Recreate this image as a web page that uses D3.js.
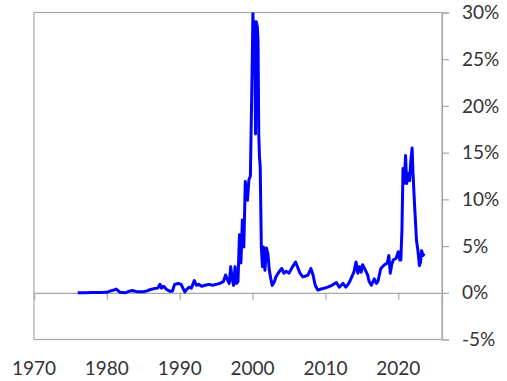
<!DOCTYPE html>
<html><head><meta charset="utf-8">
<script src="https://cdn.jsdelivr.net/npm/d3@7"></script>
<style>body{margin:0;background:#fff}svg{display:block}</style>
</head><body><svg id="c" width="507" height="381"></svg>
<script>
const years = [1976.0,1977.0,1978.0,1979.0,1980.0,1980.5,1981.0,1981.3,1981.8,1982.5,1983.0,1983.5,1984.2,1985.0,1985.5,1986.0,1986.5,1987.0,1987.3,1987.5,1987.8,1988.2,1988.7,1989.0,1989.3,1989.8,1990.2,1990.5,1990.7,1991.0,1991.3,1991.6,1992.0,1992.3,1992.6,1993.0,1993.5,1994.0,1994.5,1995.0,1995.5,1996.0,1996.3,1996.6,1996.8,1997.0,1997.2,1997.4,1997.6,1997.8,1998.0,1998.2,1998.4,1998.6,1998.8,1999.0,1999.2,1999.3,1999.5,1999.7,1999.9,2000.05,2000.15,2000.3,2000.4,2000.5,2000.65,2000.75,2000.85,2000.95,2001.05,2001.2,2001.35,2001.5,2001.7,2001.9,2002.1,2002.3,2002.5,2002.7,2003.0,2003.2,2003.6,2004.0,2004.3,2004.6,2005.0,2005.5,2005.9,2006.2,2006.5,2006.9,2007.3,2007.6,2008.0,2008.3,2008.6,2008.95,2009.4,2009.9,2010.3,2010.9,2011.5,2011.9,2012.4,2012.8,2013.2,2013.5,2013.9,2014.2,2014.45,2014.7,2014.9,2015.1,2015.5,2015.8,2016.0,2016.3,2016.7,2017.0,2017.2,2017.6,2018.1,2018.5,2018.7,2018.9,2019.1,2019.3,2019.7,2020.0,2020.2,2020.35,2020.5,2020.65,2020.8,2021.0,2021.15,2021.3,2021.55,2021.7,2021.9,2022.0,2022.25,2022.5,2022.7,2022.9,2023.05,2023.2,2023.4,2023.55];
const values = [0.0,0.0,0.02,0.03,0.05,0.2,0.3,0.4,0.05,0.0,0.15,0.25,0.1,0.1,0.2,0.35,0.45,0.5,0.9,0.5,0.7,0.35,0.15,0.2,0.9,1.0,0.9,0.4,0.1,0.4,0.6,0.5,1.3,0.8,0.9,0.7,0.8,0.9,0.8,0.9,1.0,1.2,1.9,1.3,1.0,2.8,1.5,0.8,2.8,1.0,1.2,6.2,3.2,7.8,4.9,11.9,11.0,9.9,12.1,12.5,22,30,24,29,17,29,28.5,27,17,14.5,13.5,5.0,2.8,4.9,2.4,4.8,4.2,2.4,1.5,0.8,1.2,1.7,2.2,2.6,2.1,2.3,2.1,2.8,3.3,2.7,2.1,1.7,1.8,1.9,2.6,1.9,0.8,0.3,0.4,0.5,0.6,0.8,1.1,0.6,1.0,0.6,1.0,1.5,2.2,3.3,2.1,2.8,2.2,3.0,2.4,1.9,1.2,0.8,1.5,1.0,1.2,2.6,3.0,3.2,4.0,2.1,3.0,3.5,3.7,4.4,3.5,3.5,6.7,13.3,11.7,14.7,11.7,12.8,12.0,13.9,15.5,13.1,9.2,5.6,4.5,2.9,3.3,4.5,4.0,4.2];
const xTicks = [1970,1980,1990,2000,2010,2020];
const yTicks = [-5,0,5,10,15,20,25,30];

const svg = d3.select("#c");
const L = 34, R = 442, T = 12.5, B = 339.5;
const x = d3.scaleLinear().domain([1970, 2026]).range([L, R]);
const y = d3.scaleLinear().domain([-5, 30]).range([B, T]);
const axisColor = "#a8a8a8";
const textColor = "#333";
const font = "Lato, 'Open Sans', sans-serif";

svg.append("clipPath").attr("id","clip").append("rect")
  .attr("x", L).attr("y", T).attr("width", R - L).attr("height", B - T);

// frame
svg.append("rect").attr("x", L).attr("y", T).attr("width", R - L).attr("height", B - T)
  .attr("fill","none").attr("stroke", axisColor).attr("stroke-width", 1.2);

// right axis
const ya = svg.append("g").attr("transform", `translate(${R},0)`)
  .call(d3.axisRight(y).tickValues(yTicks).tickSize(7).tickPadding(13).tickFormat(d => d + "%"));
ya.select(".domain").attr("stroke", axisColor).attr("stroke-width", 1.2);
ya.selectAll(".tick line").attr("stroke", axisColor).attr("stroke-width", 1.2);
ya.selectAll(".tick text").attr("fill", textColor).style("font-family", font).style("font-size", "19px");

// zero axis with decade ticks
const xa = svg.append("g").attr("transform", `translate(0,${y(0)})`)
  .call(d3.axisBottom(x).tickValues(xTicks).tickSize(7).tickFormat(""));
xa.select(".domain").attr("stroke", axisColor).attr("stroke-width", 1.2);
xa.selectAll(".tick line").attr("stroke", axisColor).attr("stroke-width", 1.2);

// x labels at bottom
svg.append("g").selectAll("text").data(xTicks).join("text")
  .attr("x", d => x(d)).attr("y", 375)
  .attr("text-anchor","middle").attr("fill", textColor)
  .style("font-family", font).style("font-size","19px").text(d => d);

const pts = years.map((d,i) => [d, values[i]]);
svg.append("path").datum(pts).attr("clip-path","url(#clip)")
  .attr("fill","none").attr("stroke","#0000ff").attr("stroke-width",3)
  .attr("stroke-linejoin","round")
  .attr("d", d3.line().x(d => x(d[0])).y(d => y(d[1])));
</script></body></html>
